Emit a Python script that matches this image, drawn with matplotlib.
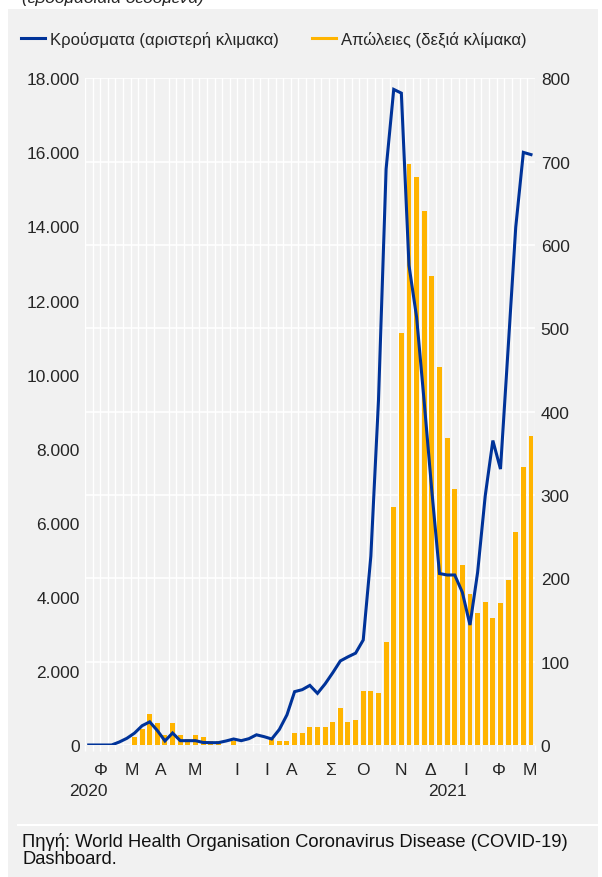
#!/usr/bin/env python

import numpy as np
import matplotlib
matplotlib.use("Agg")
import matplotlib.pyplot as plt
from matplotlib.patches import Rectangle
from matplotlib.lines import Line2D

# weekly data, late Jan 2020 -> mid Mar 2021
cases = [0, 0, 0, 0, 80, 180, 320, 520, 625, 390, 110, 324, 117, 117, 117,
         68, 63, 63, 108, 162, 117, 170, 275, 225, 162, 420, 815, 1440, 1494,
         1610, 1395, 1650, 1950, 2270, 2380, 2480, 2835, 5100, 9300, 15550,
         17700, 17600, 12950, 11550, 9250, 6850, 4630, 4590, 4590, 4120, 3240,
         4660, 6730, 8220, 7450, 10700, 13980, 16000, 15940]
deaths = [0, 0, 0, 0, 0, 0, 10, 19, 37, 26, 12, 26, 12, 7, 12,
          9, 5, 5, 0, 5, 0, 0, 0, 0, 7, 5, 5, 14, 14,
          21, 21, 21, 28, 44, 28, 30, 65, 65, 62, 124,
          286, 494, 697, 682, 641, 563, 453, 368, 307, 216, 181,
          158, 172, 152, 170, 198, 255, 334, 371]

month_labels = ["Φ", "Μ", "Α", "Μ", "Ι", "Ι", "Α", "Σ", "Ο", "Ν", "Δ", "Ι", "Φ", "Μ"]
month_pos = [1.66, 5.7, 9.5, 13.9, 19.4, 23.4, 26.6, 31.7, 36.0, 40.9, 44.8, 49.4, 53.8, 57.8]
year_labels = ["2020", "2021"]
year_pos = [0, 47]

left_ticks = [0, 2000, 4000, 6000, 8000, 10000, 12000, 14000, 16000, 18000]
right_ticks = [0, 100, 200, 300, 400, 500, 600, 700, 800]

BLUE = "#003399"
YELLOW = "#FFB400"
GREY = "#f1f1f1"
TXT = "#262626"


def dots(v, pos=None):
    return "{:,.0f}".format(v).replace(",", ".")


def main():
    plt.rcParams['font.family'] = ['Liberation Sans', 'DejaVu Sans']
    plt.rcParams['font.size'] = 12.5
    plt.rcParams['text.color'] = TXT

    W, H = 602, 878
    fig = plt.figure(figsize=(W / 100, H / 100), dpi=100)
    fig.patch.set_facecolor("white")
    fig.patches.append(Rectangle((8 / W, 0), 590 / W, 868 / H, transform=fig.transFigure,
                                 facecolor=GREY, edgecolor="none", zorder=-5))

    x = np.arange(len(cases))

    ax = fig.add_axes([84.9 / W, 1 - 746 / H, 449.9 / W, 666.7 / H])
    ax2 = ax.twinx()
    # line on top of the bars
    ax.set_zorder(ax2.get_zorder() + 1)
    ax.patch.set_visible(False)
    ax2.patch.set_visible(True)
    ax2.set_facecolor(GREY)

    ax2.bar(x, deaths, width=0.65, color=YELLOW, zorder=2)
    ax.plot(x, cases, color=BLUE, lw=2.2, solid_joinstyle="miter", zorder=3)

    ax.set_xlim(-0.5, len(cases) - 0.5)
    ax.set_ylim(0, 18000)
    ax2.set_ylim(0, 800)

    ax.set_yticks(left_ticks)
    ax.set_yticklabels([dots(v) for v in left_ticks])
    ax2.set_yticks(right_ticks)

    ax.set_xticks(month_pos)
    ax.set_xticklabels(month_labels)
    ax.set_xticks(np.arange(-0.5, len(cases)), minor=True)

    # white grid on the bar axes (below everything)
    ax2.set_axisbelow(True)
    ax2.grid(axis="y", color="white", lw=1.2)
    ax2.xaxis.set_visible(True)
    ax2.grid(axis="x", which="minor", color="white", lw=1.0)
    ax2.tick_params(axis="x", which="both", length=0, labelbottom=False, labeltop=False)

    ax.tick_params(axis="x", which="major", length=0, pad=12, labelcolor=TXT)
    ax.tick_params(axis="x", which="minor", length=4, width=1, color="white")
    ax.tick_params(axis="y", length=0, pad=3.6, labelcolor=TXT)
    ax2.tick_params(axis="y", length=0, pad=4.3, labelcolor=TXT)

    for a in (ax, ax2):
        for s in a.spines.values():
            s.set_visible(False)

    for lab, p in zip(year_labels, year_pos):
        ax.text(p, -0.0675, lab, transform=ax.get_xaxis_transform(), ha="center",
                va="center", color=TXT)

    handles = [Line2D([], [], color=BLUE, lw=2.2), Line2D([], [], color=YELLOW, lw=2.2)]
    fig.legend(handles, ["Κρούσματα (αριστερή κλιμακα)", "Απώλειες (δεξιά κλίμακα)"],
               loc="center left", bbox_to_anchor=(21 / W, 1 - 40 / H), ncol=2,
               frameon=False, borderpad=0, borderaxespad=0, handlelength=1.45,
               handletextpad=0.3, columnspacing=1.95, fontsize=12)

    # partly cut title line at the very top
    fig.text(22 / W, 1 - 3 / H, "(εβδομαδιαία δεδομένα)", style="italic",
             va="baseline", ha="left", color=TXT)

    fig.add_artist(Line2D([18 / W, 598 / W], [1 - 826 / H, 1 - 826 / H],
                          transform=fig.transFigure, color="white", lw=1.5))
    fig.text(22 / W, 1 - 850.5 / H,
             "Πηγή: World Health Organisation Coronavirus Disease (COVID-19)\nDashboard.",
             va="center", ha="left", color="#111111", fontsize=13.2, linespacing=1.05)

    fig.savefig("out.png", dpi=100, facecolor=fig.get_facecolor())


if __name__ == "__main__":
    main()
